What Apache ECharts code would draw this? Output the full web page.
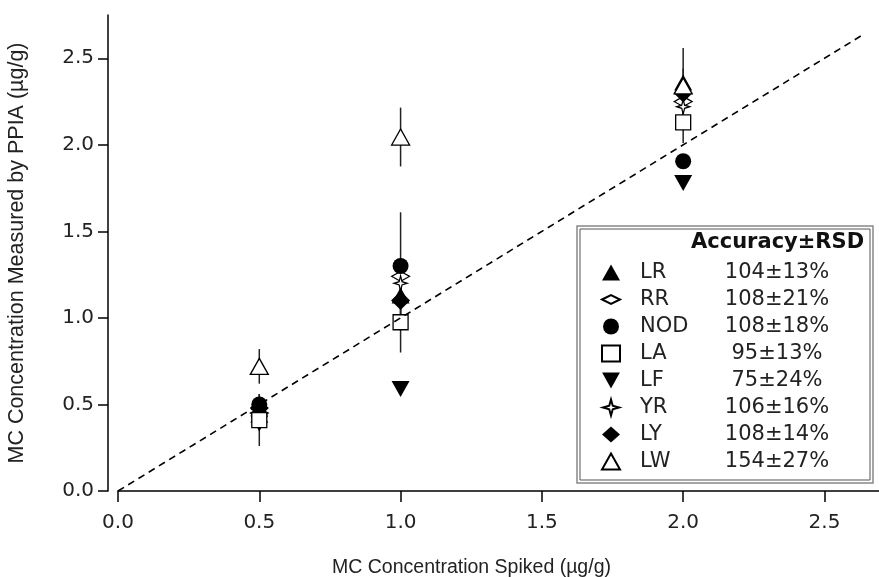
<!DOCTYPE html>
<html>
<head>
<meta charset="utf-8">
<script src="https://cdn.jsdelivr.net/npm/echarts@6/dist/echarts.min.js"></script>
<style>
  html, body { margin: 0; padding: 0; background: #fff; }
  #chart { width: 879px; height: 577px; }
</style>
</head>
<body>
<div id="chart"></div>
<script>
  // spiked levels (ug/g)
  var spiked = [0.5, 1.0, 2.0];

  // measured values by PPIA, one array per sample
  var LR  = [0.44, 1.13, 2.36];
  var RR  = [0.45, 1.24, 2.25];
  var NOD = [0.50, 1.30, 1.905];
  var LA  = [0.41, 0.975, 2.13];
  var LF  = [0.39, 0.59, 1.78];
  var YR  = [0.44, 1.20, 2.22];
  var LY  = [0.48, 1.10, 2.30];
  var LW  = [0.72, 2.045, 2.34];

  // error bar half lengths
  var errLR  = [0.05, 0.06, 0.08];
  var errRR  = [0.05, 0.10, 0.10];
  var errNOD = [0.06, 0.31, 0.03];
  var errLA  = [0.15, 0.175, 0.12];
  var errLF  = [0.04, 0.03, 0.03];
  var errYR  = [0.05, 0.08, 0.08];
  var errLY  = [0.05, 0.08, 0.08];
  var errLW  = [0.10, 0.17, 0.22];

  var names = ['LR', 'RR', 'NOD', 'LA', 'LF', 'YR', 'LY', 'LW'];
  var accuracy = ['104±13%', '108±21%', '108±18%', '95±13%', '75±24%', '106±16%', '108±14%', '154±27%'];

  // 1:1 reference line
  var diagX = [0, 2.63];
  var diagY = [0, 2.63];

  var xTicks = [0, 0.5, 1.0, 1.5, 2.0, 2.5];
  var yTicks = [0, 0.5, 1.0, 1.5, 2.0, 2.5];

  var values = [LR, RR, NOD, LA, LF, YR, LY, LW];
  var errors = [errLR, errRR, errNOD, errLA, errLF, errYR, errLY, errLW];

  var filled = { color: '#000', borderColor: '#000', borderWidth: 0, opacity: 1 };
  var hollow = { color: '#fff', borderColor: '#000', borderWidth: 1.3, opacity: 1 };
  var starPath = 'path://M10,0 L12.2,7.8 L20,10 L12.2,12.2 L10,20 L7.8,12.2 L0,10 L7.8,7.8 Z';
  var looks = [
    { symbol: 'triangle', size: [18, 16], style: filled, z: 2 },
    { symbol: 'path://M0,5 L10,0 L20,5 L10,10 Z', size: [18, 10], style: hollow, z: 2 },
    { symbol: 'circle', size: 16, style: filled, z: 2 },
    { symbol: 'rect', size: 15, style: hollow, z: 2.6 },
    { symbol: 'path://M0,0 L20,0 L10,18 Z', size: [18, 16], style: filled, z: 2 },
    { symbol: starPath, size: [13, 15], style: hollow, z: 2 },
    { symbol: 'diamond', size: [19, 19], style: filled, z: 2 },
    { symbol: 'triangle', size: [18, 16], style: hollow, z: 2.5 }
  ];

  var errData = [];
  values.forEach(function (vals, i) {
    vals.forEach(function (v, j) {
      errData.push([spiked[j], v - errors[i][j], v + errors[i][j]]);
    });
  });

  var series = [{
    name: 'err',
    type: 'custom',
    z: 1,
    silent: true,
    data: errData,
    renderItem: function (params, api) {
      var lo = api.coord([api.value(0), api.value(1)]);
      var hi = api.coord([api.value(0), api.value(2)]);
      return {
        type: 'line',
        shape: { x1: lo[0], y1: lo[1], x2: hi[0], y2: hi[1] },
        style: { stroke: '#222', lineWidth: 1.5 }
      };
    }
  }];

  names.forEach(function (n, i) {
    series.push({
      name: n,
      type: 'scatter',
      z: looks[i].z,
      symbol: looks[i].symbol,
      symbolSize: looks[i].size,
      itemStyle: looks[i].style,
      data: values[i].map(function (v, j) { return [spiked[j], v]; })
    });
  });

  series.push({
    name: 'diag',
    type: 'line',
    z: 3,
    silent: true,
    symbol: 'none',
    lineStyle: { color: '#000', width: 1.6, type: [7, 5] },
    data: diagX.map(function (x, i) { return [x, diagY[i]]; })
  });

  var chart = echarts.init(document.getElementById('chart'));
  var font = 'Liberation Sans, Arial, sans-serif';
  var wide = 'DejaVu Sans, sans-serif';

  chart.setOption({
    animation: false,
    textStyle: { fontFamily: font },
    grid: { left: 118, right: 0, top: 15, bottom: 86, outerBoundsMode: 'none', containLabel: false },
    xAxis: {
      type: 'value',
      min: 0,
      max: 2.693,
      interval: 0.5,
      name: 'MC Concentration Spiked (µg/g)',
      nameLocation: 'middle',
      nameGap: 67,
      nameTextStyle: { fontSize: 19.5, color: '#222', fontFamily: font, padding: [0, 54, 0, 0] },
      axisLine: { lineStyle: { color: '#000', width: 1.5 } },
      axisTick: { length: 11, lineStyle: { color: '#000', width: 1.5 } },
      axisLabel: {
        fontSize: 20, color: '#222', margin: 22, fontFamily: wide,
        showMaxLabel: false,
        formatter: function (v) { return xTicks.indexOf(v) >= 0 ? v.toFixed(1) : ''; }
      },
      splitLine: { show: false }
    },
    yAxis: {
      type: 'value',
      min: 0,
      max: 2.75,
      interval: 0.5,
      offset: 10,
      name: 'MC Concentration Measured by PPIA (µg/g)',
      nameLocation: 'middle',
      nameGap: 80,
      nameTextStyle: { fontSize: 21.5, color: '#222', fontFamily: font },
      axisLine: { show: true, onZero: false, lineStyle: { color: '#000', width: 1.5 } },
      axisTick: { show: true, length: 10, lineStyle: { color: '#000', width: 1.5 } },
      axisLabel: {
        fontSize: 20, color: '#222', margin: 14, fontFamily: wide,
        showMaxLabel: false,
        formatter: function (v) { return yTicks.indexOf(v) >= 0 ? v.toFixed(1) : ''; }
      },
      splitLine: { show: false }
    },
    legend: {
      orient: 'vertical',
      left: 596,
      top: 254,
      itemGap: 0,
      itemWidth: 18,
      itemHeight: 16,
      data: names,
      selectedMode: false,
      formatter: function (n) {
        return '{s|}{n|' + n + '}{a|' + accuracy[names.indexOf(n)] + '}';
      },
      textStyle: {
        fontSize: 21,
        color: '#222',
        lineHeight: 27,
        rich: {
          s: { width: 15 },
          n: { width: 72, fontSize: 21, color: '#222', fontFamily: wide },
          a: { width: 130, align: 'center', fontSize: 21, color: '#222', fontFamily: wide }
        }
      }
    },
    graphic: [
      {
        type: 'rect',
        shape: { x: 577, y: 226, width: 296, height: 257 },
        style: { fill: 'none', stroke: '#888', lineWidth: 1.5 }
      },
      {
        type: 'rect',
        shape: { x: 580, y: 229, width: 290, height: 251 },
        style: { fill: 'none', stroke: '#555', lineWidth: 1 }
      },
      {
        type: 'text',
        left: 691,
        top: 232,
        style: { text: 'Accuracy±RSD', font: 'bold 21px ' + wide, fill: '#111' }
      }
    ],
    series: series
  });
</script>
</body>
</html>
